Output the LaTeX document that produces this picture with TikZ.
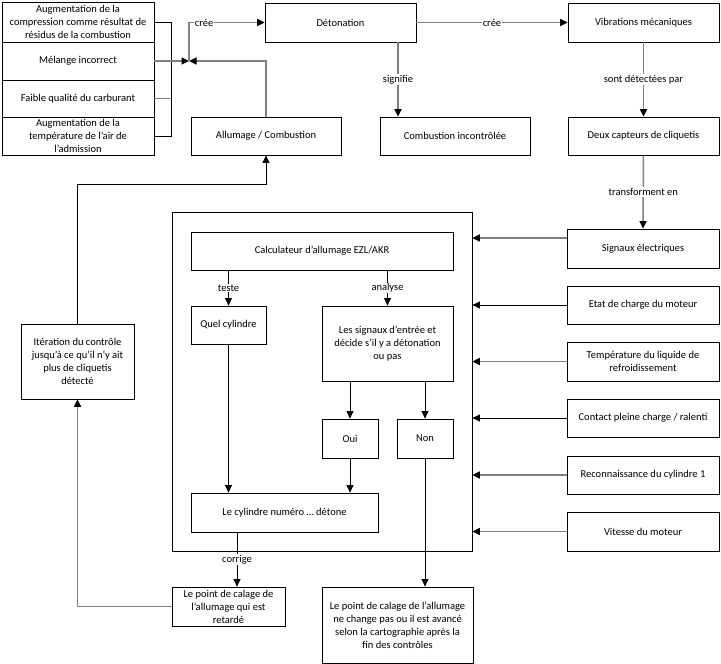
\documentclass[tikz,border=0pt]{standalone}
\usepackage{fontspec}
\setmainfont{Carlito}
\usetikzlibrary{arrows.meta}

\begin{document}
\begin{tikzpicture}[x=1pt,y=-1pt,
    bx/.style={draw, fill=white, line width=0.8pt, align=center, inner sep=2pt,
      font=\fontsize{10.5}{13}\selectfont},
    gl/.style={draw=black!50, line width=1.5pt},
    bl/.style={draw=black, line width=0.9pt},
    tip/.style={-{Triangle[length=7.5pt,width=7pt,color=black]}},
    lbl/.style={fill=white, inner sep=1pt, font=\fontsize{10.5}{13}\selectfont}]
  \useasboundingbox (0,0) rectangle (721,664);

  % left column
  \node[bx, minimum width=152pt, minimum height=40pt] (aug1) at (78,22)
    {Augmentation de la\\compression comme résultat de\\résidus de la combustion};
  \node[bx, minimum width=152pt, minimum height=38pt] (mel) at (78,61) {Mélange incorrect};
  \node[bx, minimum width=152pt, minimum height=37pt] (faible) at (78,98.5) {Faible qualité du carburant};
  \node[bx, minimum width=152pt, minimum height=38pt] (aug2) at (78,136)
    {Augmentation de la\\température de l’air de\\l’admission};

  % top row
  \node[bx, minimum width=151pt, minimum height=39pt] (det) at (340.5,22.5) {Détonation};
  \node[bx, minimum width=151pt, minimum height=39pt] (vib) at (643.5,22.5) {Vibrations mécaniques};
  \node[bx, minimum width=150pt, minimum height=38pt] (allum) at (266,136) {Allumage / Combustion};
  \node[bx, minimum width=150pt, minimum height=38pt] (comb) at (455,136) {Combustion incontrôlée};
  \node[bx, minimum width=151pt, minimum height=38pt] (capt) at (643.5,136) {Deux capteurs de cliquetis};

  % inputs
  \node[bx, minimum width=152pt, minimum height=39pt] (sig) at (643,248.5) {Signaux électriques};
  \node[bx, minimum width=152pt, minimum height=38pt] (etat) at (643,305) {Etat de charge du moteur};
  \node[bx, minimum width=152pt, minimum height=39pt] (temp) at (643,361.5)
    {Température du liquide de\\refroidissement};
  \node[bx, minimum width=152pt, minimum height=38pt] (contact) at (643,418) {Contact pleine charge / ralenti};
  \node[bx, minimum width=152pt, minimum height=38pt] (recon) at (643,475) {Reconnaissance du cylindre 1};
  \node[bx, minimum width=152pt, minimum height=39pt] (vit) at (643,531.5) {Vitesse du moteur};

  % ignition unit
  \node[bx, minimum width=300pt, minimum height=339pt] (big) at (322,381.5) {};
  \node[bx, minimum width=262pt, minimum height=38pt] (calc) at (322,251) {Calculateur d’allumage EZL/AKR};
  \node[bx, minimum width=75pt, minimum height=38pt] (quel) at (228.5,325) {Quel cylindre};
  \node[bx, minimum width=131pt, minimum height=75pt] (lessig) at (387.5,343.5)
    {Les signaux d’entrée et\\décide s’il y a détonation\\ou pas};
  \node[bx, minimum width=56pt, minimum height=39pt] (oui) at (350,438.5) {Oui};
  \node[bx, minimum width=56pt, minimum height=39pt] (non) at (425,438.5) {Non};
  \node[bx, minimum width=187pt, minimum height=39pt] (cyl) at (284.5,512.5) {Le cylindre numéro … détone};

  % results
  \node[bx, minimum width=113pt, minimum height=39pt] (ret) at (228.5,606.5)
    {Le point de calage de\\l’allumage qui est\\retardé};
  \node[bx, minimum width=151pt, minimum height=76pt] (chg) at (397.5,625)
    {Le point de calage de l’allumage\\ne change pas ou il est avancé\\selon la cartographie après la\\fin des contrôles};
  \node[bx, minimum width=113pt, minimum height=75pt] (iter) at (77.5,361.5)
    {Itération du contrôle\\jusqu’à ce qu’il n’y ait\\plus de cliquetis\\détecté};

  % causes
  \coordinate (j) at (189,61);
  \draw[bl] (aug1.east) -- ++(17,0) |- (aug2.east);
  \draw[gl] (faible.east) -- ++(17,0);
  \draw[gl,tip] (mel.east) -- (j);
  \draw[gl,tip] (allum.north) |- (j);
  \draw[gl,tip] (j) |- (det.west) node[lbl, pos=0.6] {crée};
  \draw[gl,tip] (det.east) -- (vib.west) node[lbl, midway] {crée};
  \draw[gl,tip] ([xshift=-57pt]comb.north |- det.south) -- ([xshift=-57pt]comb.north)
    node[lbl, midway] {signifie};
  \draw[gl,tip] (vib.south) -- (capt.north) node[lbl, midway] {sont détectées par};
  \draw[gl,tip] (capt.south) -- (sig.north) node[lbl, midway] {transforment en};

  % inputs to the unit
  \draw[gl,tip] ([yshift=10.5pt]sig.west) -- ([yshift=10.5pt]sig.west -| big.east);
  \foreach \n/\c in {etat/bl, temp/gl, contact/bl, recon/gl, vit/gl}
    \draw[\c,tip] (\n.west) -- (\n.west -| big.east);

  % inside the unit
  \draw[bl,tip] (calc.south -| quel.north) -- (quel.north) node[lbl, midway] {teste};
  \draw[bl,tip] (calc.south -| lessig.north) -- (lessig.north) node[lbl, midway] {analyse};
  \draw[bl,tip] (lessig.south -| oui.north) -- (oui.north);
  \draw[bl,tip] (lessig.south -| non.north) -- (non.north);
  \draw[bl,tip] (quel.south) -- (quel.south |- cyl.north);
  \draw[bl,tip] (oui.south) -- (oui.south |- cyl.north);

  % outcomes
  \draw[bl,tip] ([xshift=8.5pt]ret.north |- cyl.south) -- ([xshift=8.5pt]ret.north)
    node[lbl, midway] {corrige};
  \draw[bl,tip] (non.south) -- (non.south |- chg.north);
  \draw[gl,tip] (ret.west) -| (iter.south);
  \draw[bl,tip] (iter.north) |- ([yshift=-29pt]allum.south) -- (allum.south);
\end{tikzpicture}
\end{document}
